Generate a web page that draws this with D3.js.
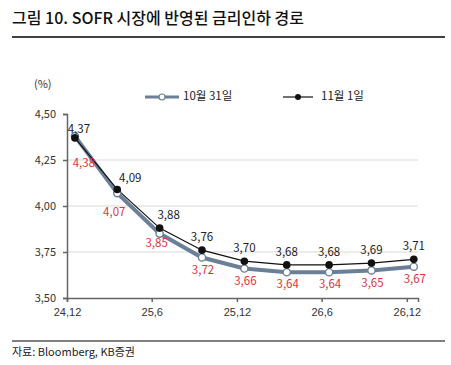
<!DOCTYPE html>
<html><head><meta charset="utf-8">
<script src="https://cdn.jsdelivr.net/npm/d3@7"></script>
<style>
body{margin:0;background:#fff;}
svg{display:block;font-family:"Noto Sans CJK KR","Noto Sans",sans-serif;}
</style></head><body>
<svg id="c" width="451" height="365"></svg>
<script>
const dates = ["2024-12-18","2025-03-19","2025-06-18","2025-09-17","2025-12-17","2026-03-18","2026-06-17","2026-09-16","2026-12-16"];
const oct31 = [4.38,4.07,3.85,3.72,3.66,3.64,3.64,3.65,3.67];
const nov1  = [4.37,4.09,3.88,3.76,3.70,3.68,3.68,3.69,3.71];
const seriesNames = ["10월 31일","11월 1일"];
const xTickDates = ["2024-12-01","2025-06-01","2025-12-01","2026-06-01","2026-12-01"];
const xTickLabels = ["24.12","25.6","25.12","26.6","26.12"];
const yTicks = [3.50,3.75,4.00,4.25,4.50];

const svg = d3.select("#c");
const parse = d3.timeParse("%Y-%m-%d");
const fmt = v => d3.format(".2f")(v).replace(".", ",");

// title
svg.append("text").attr("x",12).attr("y",24).attr("font-size",16).attr("font-weight",500)
  .attr("fill","#111").text("그림 10. SOFR 시장에 반영된 금리인하 경로");
svg.append("line").attr("x1",12).attr("x2",445).attr("y1",37).attr("y2",37).attr("stroke","#000").attr("stroke-width",1.5);
// footer
svg.append("line").attr("x1",12).attr("x2",445).attr("y1",341).attr("y2",341).attr("stroke","#000").attr("stroke-width",1.2);
svg.append("text").attr("x",12).attr("y",356).attr("font-size",11).attr("fill","#222").text("자료: Bloomberg, KB증권");

const x = d3.scaleTime().domain([parse("2024-12-01"), parse("2026-12-25")]).range([67, 418]);
const y = d3.scaleLinear().domain([3.5, 4.5]).range([298, 114]);

// gridlines
svg.append("g").selectAll("line").data(yTicks.filter(v => v > 3.5 && v < 4.5)).join("line")
  .attr("x1",67).attr("x2",418).attr("y1",d=>y(d)).attr("y2",d=>y(d))
  .attr("stroke","#d9d9d9").attr("stroke-width",1);

// y axis
const yAxis = svg.append("g").attr("transform","translate(67,0)")
  .call(d3.axisLeft(y).tickValues(yTicks).tickSize(4).tickFormat(fmt));
yAxis.select(".domain").attr("stroke","#666").attr("stroke-width",1.5);
yAxis.selectAll(".tick line").attr("stroke","#666").attr("stroke-width",1.5);
yAxis.selectAll("text").attr("font-size",11).attr("fill","#333").attr("x",-11)
  .attr("font-family","'Noto Sans CJK KR',sans-serif");
svg.append("text").attr("x",34).attr("y",88).attr("font-size",11).attr("fill","#333").text("(%)");

// x axis
const xAxis = svg.append("g").attr("transform","translate(0,298)")
  .call(d3.axisBottom(x).tickValues(xTickDates.map(parse)).tickSize(4)
    .tickFormat((d,i)=>xTickLabels[i].replace(".", ",")));
xAxis.select(".domain").attr("stroke","#666").attr("stroke-width",1.5);
xAxis.selectAll(".tick line").attr("stroke","#666").attr("stroke-width",1.5);
xAxis.selectAll("text").attr("font-size",11).attr("fill","#333").attr("y",10);

const pts1 = dates.map((d,i)=>({x:parse(d), v:oct31[i], i}));
const pts2 = dates.map((d,i)=>({x:parse(d), v:nov1[i], i}));
const line = d3.line().x(d=>x(d.x)).y(d=>y(d.v));

const grayCol = "#6b7f96";
svg.append("path").datum(pts1).attr("d",line).attr("fill","none").attr("stroke",grayCol).attr("stroke-width",4);
svg.append("path").datum(pts2).attr("d",line).attr("fill","none").attr("stroke","#111").attr("stroke-width",1.2);
svg.append("g").selectAll("circle").data(pts1).join("circle")
  .attr("cx",d=>x(d.x)).attr("cy",d=>y(d.v)).attr("r",3.6)
  .attr("fill","#fff").attr("stroke",grayCol).attr("stroke-width",1.4);
svg.append("g").selectAll("circle").data(pts2).join("circle")
  .attr("cx",d=>x(d.x)).attr("cy",d=>y(d.v)).attr("r",3.8).attr("fill","#111");

// labels
const redNudge = (i) => i===0 ? [9,28] : i===1 ? [-3,20] : i===2 ? [-3,10] : [1,13];
const blackNudge = (i) => i===0 ? [4,-8] : i===1 ? [13,-11] : i===2 ? [9,-12] : [0,-12];
svg.append("g").selectAll("text").data(pts2).join("text")
  .attr("x",d=>x(d.x)+blackNudge(d.i)[0]).attr("y",d=>y(d.v)+blackNudge(d.i)[1])
  .attr("text-anchor","middle").attr("dominant-baseline","middle")
  .attr("font-size",11.5).attr("fill","#222").text(d=>fmt(d.v));
svg.append("g").selectAll("text").data(pts1).join("text")
  .attr("x",d=>x(d.x)+redNudge(d.i)[0]).attr("y",d=>y(d.v)+redNudge(d.i)[1])
  .attr("text-anchor","middle").attr("dominant-baseline","middle")
  .attr("font-size",11.5).attr("fill","#d8363a").text(d=>fmt(d.v));

// legend
const lg = svg.append("g");
lg.append("line").attr("x1",145).attr("x2",179).attr("y1",97).attr("y2",97).attr("stroke",grayCol).attr("stroke-width",3);
lg.append("circle").attr("cx",162).attr("cy",97).attr("r",3).attr("fill","#fff").attr("stroke",grayCol).attr("stroke-width",1.2);
lg.append("text").attr("x",183).attr("y",97).attr("dominant-baseline","middle").attr("font-size",11.5).attr("fill","#222").text(seriesNames[0]);
lg.append("line").attr("x1",283).attr("x2",313).attr("y1",97).attr("y2",97).attr("stroke","#111").attr("stroke-width",1.2);
lg.append("circle").attr("cx",298).attr("cy",97).attr("r",3).attr("fill","#111");
lg.append("text").attr("x",321).attr("y",97).attr("dominant-baseline","middle").attr("font-size",11.5).attr("fill","#222").text(seriesNames[1]);
</script></body></html>
